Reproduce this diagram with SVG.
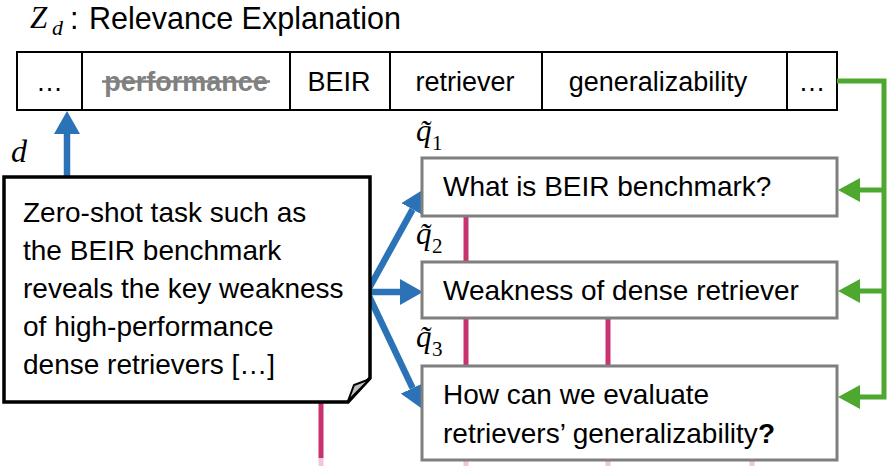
<svg xmlns="http://www.w3.org/2000/svg" width="893" height="466" viewBox="0 0 893 466">
  <style>
    .sans { font-family: "Liberation Sans", Arial, sans-serif; fill: #000; }
    .math { font-family: "Liberation Serif", "DejaVu Serif", serif; font-style: italic; fill: #000; }
    .num { font-family: "Liberation Serif", "DejaVu Serif", serif; fill: #000; }
    .cell { font-size: 27px; text-anchor: middle; }
    .body { font-size: 28px; }
    .qbox { fill: #fff; stroke: #7f7f7f; stroke-width: 3; }
    .blue { stroke: #2b73b6; stroke-width: 6.5; fill: none; }
    .green { stroke: #4ea72e; stroke-width: 5; fill: none; }
    .pink { stroke: #c8326e; stroke-width: 5; }
    .pinkfade { stroke: #f2c6d7; stroke-width: 5; }
  </style>
  <defs>
    <marker id="blueHead" viewBox="0 0 23 26" refX="0" refY="13" markerWidth="23" markerHeight="26" markerUnits="userSpaceOnUse" orient="auto">
      <path d="M0,0 L23,13 L0,26 Z" fill="#2b73b6"/>
    </marker>
    <marker id="greenHead" viewBox="0 0 22 24" refX="0" refY="12" markerWidth="22" markerHeight="24" markerUnits="userSpaceOnUse" orient="auto">
      <path d="M0,0 L22,12 L0,24 Z" fill="#4ea72e"/>
    </marker>
  </defs>

  <rect width="893" height="466" fill="#fff"/>

  <!-- title -->
  <g id="title">
    <text class="math" x="30" y="28" font-size="31">Z</text>
    <text class="math" x="52" y="35" font-size="22">d</text>
    <text class="sans" x="70" y="29" font-size="30.5">:</text>
    <text class="sans" x="89" y="29" font-size="30.5">Relevance Explanation</text>
  </g>

  <!-- token bar -->
  <g id="tokens">
    <rect x="17" y="52" width="820" height="58" fill="#fff" stroke="#000" stroke-width="2"/>
    <g stroke="#000" stroke-width="2">
      <line x1="82" y1="52" x2="82" y2="110"/>
      <line x1="290" y1="52" x2="290" y2="110"/>
      <line x1="390" y1="52" x2="390" y2="110"/>
      <line x1="542" y1="52" x2="542" y2="110"/>
      <line x1="787" y1="52" x2="787" y2="110"/>
    </g>
    <text class="sans cell" x="49.5" y="91">…</text>
    <text class="sans cell" x="186" y="91" font-weight="bold" style="fill:#808080">performance</text>
    <line x1="102" y1="81.5" x2="270" y2="81.5" stroke="#808080" stroke-width="2.5"/>
    <text class="sans cell" x="339" y="91">BEIR</text>
    <text class="sans cell" x="465" y="91">retriever</text>
    <text class="sans cell" x="658" y="91">generalizability</text>
    <text class="sans cell" x="812" y="91">…</text>
  </g>

  <!-- connectors -->
  <g id="connectors">
    <!-- passage to explanation -->
    <line class="blue" x1="67" y1="177" x2="67" y2="134" marker-end="url(#blueHead)"/>
    <!-- passage to queries -->
    <line class="blue" x1="367" y1="292" x2="412.6" y2="209.4" marker-end="url(#blueHead)"/>
    <line class="blue" x1="367" y1="292" x2="400" y2="292" marker-end="url(#blueHead)"/>
    <line class="blue" x1="367" y1="292" x2="412.6" y2="388.1" marker-end="url(#blueHead)"/>
    <!-- explanation feedback to queries -->
    <path class="green" d="M837,81 H884 V397 H860" marker-end="url(#greenHead)"/>
    <path class="green" d="M884,190 H860" marker-end="url(#greenHead)"/>
    <path class="green" d="M884,291 H860" marker-end="url(#greenHead)"/>
    <!-- query links -->
    <line class="pink" x1="466" y1="216" x2="466" y2="262"/>
    <line class="pink" x1="466" y1="318" x2="466" y2="366"/>
    <line class="pink" x1="608" y1="318" x2="608" y2="366"/>
    <line class="pink" x1="321" y1="402" x2="321" y2="458"/>
    <line class="pinkfade" x1="321" y1="458" x2="321" y2="466"/>
    <line class="pinkfade" x1="466" y1="461" x2="466" y2="466"/>
    <line class="pinkfade" x1="608" y1="461" x2="608" y2="466"/>
    <line class="pinkfade" x1="752" y1="461" x2="752" y2="466"/>
  </g>

  <!-- passage -->
  <g id="passage">
    <text class="math" x="11" y="162" font-size="32">d</text>
    <path d="M4,177 H370 V378 L348,402 H4 Z" fill="#fff" stroke="#000" stroke-width="3.5" stroke-linejoin="miter"/>
    <path d="M348,401 L354,385 L370,379 Z" fill="#bfbfbf" stroke="#000" stroke-width="2"/>
    <text class="sans body" x="23" y="222">Zero-shot task such as</text>
    <text class="sans body" x="23" y="260">the BEIR benchmark</text>
    <text class="sans body" x="23" y="298">reveals the key weakness</text>
    <text class="sans body" x="23" y="336">of high-performance</text>
    <text class="sans body" x="23" y="374">dense retrievers […]</text>
  </g>

  <!-- queries -->
  <g id="q1">
    <text class="math" x="416" y="141" font-size="31">q&#x303;</text>
    <text class="num" x="432" y="150" font-size="21">1</text>
    <rect class="qbox" x="422" y="158" width="415" height="58"/>
    <text class="sans body" x="443" y="196">What is BEIR benchmark?</text>
  </g>
  <g id="q2">
    <text class="math" x="416" y="244" font-size="31">q&#x303;</text>
    <text class="num" x="432" y="253" font-size="21">2</text>
    <rect class="qbox" x="422" y="262" width="415" height="56"/>
    <text class="sans body" x="443" y="300">Weakness of dense retriever</text>
  </g>
  <g id="q3">
    <text class="math" x="416" y="347" font-size="31">q&#x303;</text>
    <text class="num" x="432" y="356" font-size="21">3</text>
    <rect class="qbox" x="422" y="366" width="415" height="94"/>
    <text class="sans body" x="443" y="404">How can we evaluate</text>
    <text class="sans body" x="443" y="443">retrievers’ generalizability<tspan font-weight="bold">?</tspan></text>
  </g>
</svg>
